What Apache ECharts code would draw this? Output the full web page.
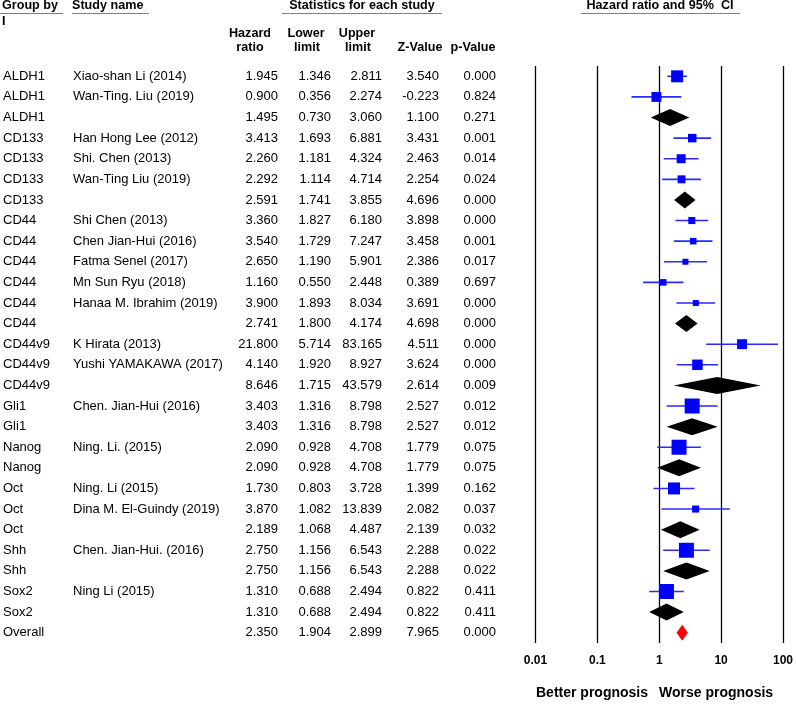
<!DOCTYPE html>
<html><head><meta charset="utf-8">
<script src="https://cdn.jsdelivr.net/npm/echarts@6/dist/echarts.min.js"></script>
<style>html,body{margin:0;padding:0;background:#fff}#c{width:796px;height:704px}</style>
</head><body><div id="c"></div>
<script>
// ---------- data ----------
const groups = ['ALDH1','ALDH1','ALDH1','CD133','CD133','CD133','CD133','CD44','CD44','CD44','CD44','CD44','CD44','CD44v9','CD44v9','CD44v9','Gli1','Gli1','Nanog','Nanog','Oct','Oct','Oct','Shh','Shh','Sox2','Sox2','Overall'];
const studies = ['Xiao-shan Li (2014)','Wan-Ting. Liu (2019)','','Han Hong Lee (2012)','Shi. Chen (2013)','Wan-Ting Liu (2019)','','Shi Chen (2013)','Chen Jian-Hui (2016)','Fatma Senel (2017)','Mn Sun Ryu (2018)','Hanaa M. Ibrahim (2019)','','K Hirata (2013)','Yushi YAMAKAWA (2017)','','Chen. Jian-Hui (2016)','','Ning. Li. (2015)','','Ning. Li (2015)','Dina M. El-Guindy (2019)','','Chen. Jian-Hui. (2016)','','Ning Li (2015)','',''];
const hazardRatio = [1.945,0.900,1.495,3.413,2.260,2.292,2.591,3.360,3.540,2.650,1.160,3.900,2.741,21.800,4.140,8.646,3.403,3.403,2.090,2.090,1.730,3.870,2.189,2.750,2.750,1.310,1.310,2.350];
const lowerLimit = [1.346,0.356,0.730,1.693,1.181,1.114,1.741,1.827,1.729,1.190,0.550,1.893,1.800,5.714,1.920,1.715,1.316,1.316,0.928,0.928,0.803,1.082,1.068,1.156,1.156,0.688,0.688,1.904];
const upperLimit = [2.811,2.274,3.060,6.881,4.324,4.714,3.855,6.180,7.247,5.901,2.448,8.034,4.174,83.165,8.927,43.579,8.798,8.798,4.708,4.708,3.728,13.839,4.487,6.543,6.543,2.494,2.494,2.899];
const zValue = [3.540,-0.223,1.100,3.431,2.463,2.254,4.696,3.898,3.458,2.386,0.389,3.691,4.698,4.511,3.624,2.614,2.527,2.527,1.779,1.779,1.399,2.082,2.139,2.288,2.288,0.822,0.822,7.965];
const pValue = [0.000,0.824,0.271,0.001,0.014,0.024,0.000,0.000,0.001,0.017,0.697,0.000,0.000,0.000,0.000,0.009,0.012,0.012,0.075,0.075,0.162,0.037,0.032,0.022,0.022,0.411,0.411,0.000];
// row kind: s = study, g = subgroup summary, o = overall
const rowKind = ['s','s','g','s','s','s','g','s','s','s','s','s','g','s','s','g','s','g','s','g','s','s','g','s','g','s','g','o'];
// relative weight (%) of each study (drives square size)
const relWeight = [64,44,null,32,36,28,null,22,19,16,19,16,null,44,49,null,100,null,100,null,64,22,null,100,null,100,null,null];
const xTickValues = [0.01,0.1,1,10,100];
const xTickLabels = ['0.01','0.1','1','10','100'];

// ---------- chart ----------
const FONT = '"Liberation Sans", Arial, sans-serif';
const gridLeft = 534.5, gridWidth = 250, gridTop = 66, gridHeight = 577;
const rowCats = groups.map((_, i) => String(i));
const fmt = v => v.toFixed(3);

function tableAxis(texts, offset, align) {
  return {
    type: 'category', gridIndex: 0, position: 'left', inverse: true,
    data: rowCats, offset: offset,
    axisLine: {show: false}, axisTick: {show: false}, splitLine: {show: false},
    axisLabel: {
      interval: 0, margin: 0, align: align,
      fontFamily: FONT, fontSize: 13, color: '#000',
      formatter: (v, i) => texts[i]
    }
  };
}

const yAxes = [
  tableAxis(groups, gridLeft - 2, 'left'),
  tableAxis(studies, gridLeft - 72, 'left'),
  tableAxis(hazardRatio.map(fmt), gridLeft - 277, 'right'),
  tableAxis(lowerLimit.map(fmt), gridLeft - 330, 'right'),
  tableAxis(upperLimit.map(fmt), gridLeft - 381, 'right'),
  tableAxis(zValue.map(fmt), gridLeft - 438, 'right'),
  tableAxis(pValue.map(fmt), gridLeft - 495, 'right')
];

function hdr(text, x, y, align) {
  return {type: 'text', x: x, y: y, silent: true,
    style: {text: text, fill: '#000', font: 'bold 12.6px ' + FONT,
      textAlign: align || 'left', textVerticalAlign: 'middle'}};
}
function uline(x1, x2, y) {
  return {type: 'line', silent: true, shape: {x1: x1, y1: y, x2: x2, y2: y},
    style: {stroke: '#808080', lineWidth: 1}};
}

const option = {
  backgroundColor: '#fff',
  animation: false,
  grid: {left: gridLeft, top: gridTop, width: gridWidth, height: gridHeight, containLabel: false},
  xAxis: {
    type: 'log', logBase: 10, min: 0.01, max: 100,
    axisLine: {show: false}, axisTick: {show: false},
    splitLine: {show: true, showMinLine: true, showMaxLine: true, lineStyle: {color: '#000', width: 1.3}},
    axisLabel: {
      margin: 12, fontFamily: FONT, fontSize: 12, fontWeight: 'bold', color: '#000',
      formatter: v => {
        const k = xTickValues.findIndex(t => Math.abs(Math.log10(t) - Math.log10(v)) < 1e-6);
        return k >= 0 ? xTickLabels[k] : '';
      }
    }
  },
  yAxis: yAxes,
  series: [{
    type: 'custom', xAxisIndex: 0, yAxisIndex: 0,
    encode: {x: [0, 1, 2], y: 3},
    data: hazardRatio.map((v, i) => [v, lowerLimit[i], upperLimit[i], i]),
    renderItem: function (params, api) {
      const i = params.dataIndex;
      const row = api.value(3);
      const pE = api.coord([api.value(0), row]);
      const pL = api.coord([api.value(1), row]);
      const pH = api.coord([api.value(2), row]);
      const kind = rowKind[i];
      if (kind === 's') {
        const s = 15 * Math.sqrt(relWeight[i] / 100);
        return {type: 'group', children: [
          {type: 'line', shape: {x1: pL[0], y1: pL[1], x2: pH[0], y2: pH[1]},
            style: {stroke: '#2a2aff', lineWidth: 1.6}},
          {type: 'rect', shape: {x: pE[0] - s / 2, y: pE[1] - s / 2, width: s, height: s},
            style: {fill: '#0000ff'}}
        ]};
      }
      const h = kind === 'o' ? 8 : 8.5;
      return {type: 'polygon', shape: {points: [[pL[0], pL[1]], [pE[0], pE[1] - h], [pH[0], pH[1]], [pE[0], pE[1] + h]]},
        style: {fill: kind === 'o' ? '#ff0000' : '#000'}};
    }
  }],
  graphic: [
    hdr('Group by', 2, 6), hdr('I', 2, 22),
    hdr('Study name', 72, 6),
    hdr('Statistics for each study', 362, 6, 'center'),
    hdr('Hazard ratio and 95%  CI', 660, 6, 'center'),
    uline(0, 63, 13.5), uline(72, 149, 13.5), uline(282, 442, 13.5), uline(581, 740, 13.5),
    hdr('Hazard', 250, 34, 'center'), hdr('ratio', 250, 48, 'center'),
    hdr('Lower', 306, 34, 'center'), hdr('limit', 307, 48, 'center'),
    hdr('Upper', 357, 34, 'center'), hdr('limit', 358, 48, 'center'),
    hdr('Z-Value', 420, 48, 'center'), hdr('p-Value', 473, 48, 'center'),
    {type: 'text', x: 648, y: 693, silent: true, style: {text: 'Better prognosis', fill: '#000', font: 'bold 14px ' + FONT, textAlign: 'right', textVerticalAlign: 'middle'}},
    {type: 'text', x: 659, y: 693, silent: true, style: {text: 'Worse prognosis', fill: '#000', font: 'bold 14px ' + FONT, textAlign: 'left', textVerticalAlign: 'middle'}}
  ]
};

const chart = echarts.init(document.getElementById('c'), null, {renderer: 'canvas'});
chart.setOption(option);
</script>
</body></html>
